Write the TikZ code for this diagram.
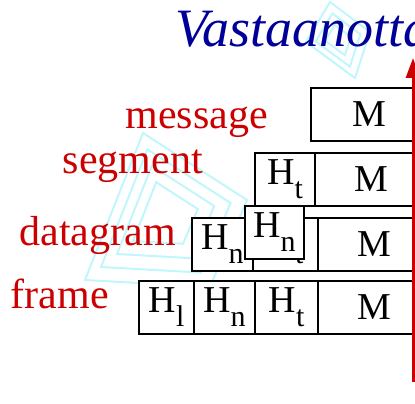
\documentclass[tikz,border=0pt]{standalone}
\usepackage{fontspec}
\setmainfont{Liberation Serif}
\usetikzlibrary{arrows.meta}
\definecolor{labred}{RGB}{204,0,0}
\definecolor{titleblue}{RGB}{0,0,153}
\definecolor{wmcyan}{RGB}{150,240,250}
\newcommand{\hsub}[1]{H\raisebox{-14pt}{\fontsize{30}{30}\selectfont #1}}
\begin{document}
\begin{tikzpicture}[x=1pt,y=-1pt]
 	\def \msgy{114.5}
 	\def \segy{179.5}
 	\def \daty{244.5}
 	\def \frmy{307.5}
 	\tikzstyle{pkt}=[draw=black,line width=1.4pt,fill=white,inner sep=0pt,minimum height=53pt,font=\fontsize{38}{38}\selectfont]
 	\tikzstyle{annot}=[text=labred,inner sep=0pt,font=\fontsize{42}{42}\selectfont,anchor=base east]
 	\useasboundingbox (0,0) rectangle (415,404);
 	% watermark
 	\begin{scope}[wmcyan,line width=2pt,opacity=0.6]
 	\foreach \s in {1,0.8,0.6,0.4} {
 		\draw[shift={(165,215)},scale=\s] (-22,-82) -- (82,-15) -- (45,72) -- (-80,65) -- cycle;
 	}
 	\foreach \s in {1,0.7,0.4} {
 		\draw[shift={(338,40)},scale=\s] (-8,-38) -- (32,-8) -- (17,38) -- (-32,2) -- cycle;
 	}
 	\end{scope}
 	\node[text=titleblue,inner sep=0pt,anchor=base west,font=\fontsize{54}{54}\selectfont\itshape] (title) at (175,47) {Vastaanotta};
 	% labels
 	\node[annot] (msg-label) at (268,128) {message};
 	\node[annot] (seg-label) at (203,173) {segment};
 	\node[annot] (dat-label) at (176,245) {datagram};
 	\node[annot] (frm-label) at (109,308) {frame};
 	% message (boxes run on under the arrow)
 	\node[pkt,minimum width=116pt] (m-msg) at (369,\msgy) {M};
 	% segment
 	\node[pkt,minimum width=60pt] (ht-seg) at (285,\segy) {\hsub{t}};
 	\node[pkt,minimum width=112pt] (m-seg) at (371,\segy) {M};
 	% datagram
 	\node[pkt,minimum width=61pt] (hn-dat) at (222.5,\daty) {\hsub{n}};
 	\node[pkt,minimum width=65pt] (ht-dat) at (285.5,\daty) {\hsub{t}};
 	\node[pkt,minimum width=112pt] (m-dat) at (374,\daty) {M};
 	\node[pkt,minimum width=59pt] (hn-top) at (274.5,232.5) {\hsub{n}};
 	% frame
 	\node[pkt,minimum width=55pt] (hl-frm) at (166.5,\frmy) {\hsub{l}};
 	\node[pkt,minimum width=61pt] (hn-frm) at (224.5,\frmy) {\hsub{n}};
 	\node[pkt,minimum width=63pt] (ht-frm) at (286.5,\frmy) {\hsub{t}};
 	\node[pkt,minimum width=112pt] (m-frm) at (374,\frmy) {M};
 	% receiver arrow
 	\coordinate (recv-bot) at (413,382);
 	\coordinate (recv-top) at (413,58);
 	\draw[labred,line width=3pt,-{Triangle[width=14pt,length=20pt]}] (recv-bot) -- (recv-top);
\end{tikzpicture}
\end{document}
